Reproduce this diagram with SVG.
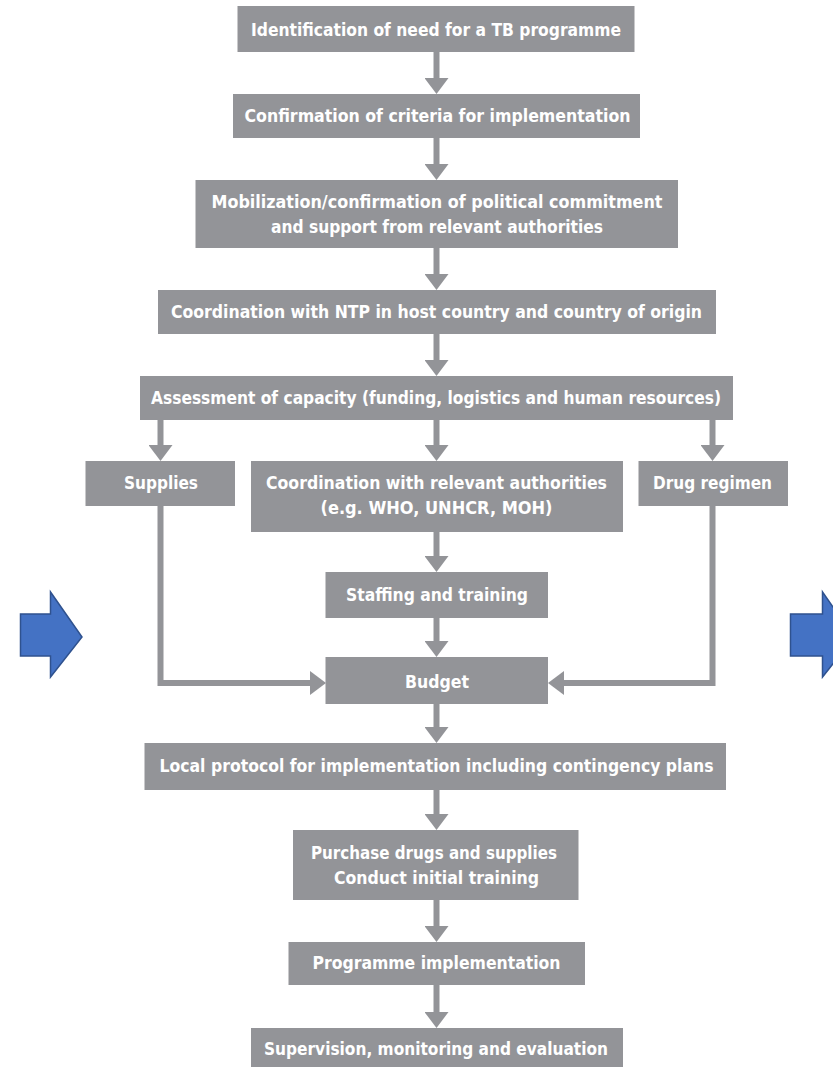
<svg xmlns="http://www.w3.org/2000/svg" width="833" height="1067" viewBox="0 0 833 1067">
<style>
.box{fill:#939498}
.t{fill:#ffffff;font-family:"Liberation Sans Narrow","DejaVu Sans Condensed","Roboto Condensed",sans-serif;font-weight:bold;font-size:17.5px;text-anchor:middle;dominant-baseline:central}
.c{fill:none;stroke:#939498;stroke-width:6;marker-end:url(#ah)}
.blue{fill:#4472C4;stroke:#2F528F;stroke-width:1.5}
</style>
<defs>
<marker id="ah" viewBox="0 0 16 24" refX="4" refY="12" markerWidth="16" markerHeight="24" markerUnits="userSpaceOnUse" orient="auto">
<path d="M0,0 L16,12 L0,24 z" fill="#939498"/>
</marker>
</defs>
<rect width="833" height="1067" fill="#ffffff"/>
<g id="connectors">
<line class="c" x1="436.5" y1="51" x2="436.5" y2="82"/>
<line class="c" x1="436.5" y1="137" x2="436.5" y2="168"/>
<line class="c" x1="436.5" y1="247" x2="436.5" y2="278"/>
<line class="c" x1="436.5" y1="333" x2="436.5" y2="364"/>
<line class="c" x1="160.5" y1="419" x2="160.5" y2="449"/>
<line class="c" x1="436.5" y1="419" x2="436.5" y2="449"/>
<line class="c" x1="712.5" y1="419" x2="712.5" y2="449"/>
<line class="c" x1="436.5" y1="531" x2="436.5" y2="560"/>
<line class="c" x1="436.5" y1="617" x2="436.5" y2="645"/>
<polyline class="c" points="160.5,505 160.5,683 314,683"/>
<polyline class="c" points="712.5,505 712.5,683 560,683"/>
<line class="c" x1="436.5" y1="703" x2="436.5" y2="731"/>
<line class="c" x1="436.5" y1="789" x2="436.5" y2="818"/>
<line class="c" x1="436.5" y1="899" x2="436.5" y2="930"/>
<line class="c" x1="436.5" y1="984" x2="436.5" y2="1016"/>
</g>
<g id="n1"><rect class="box" x="237.5" y="6" width="397" height="46"/><text class="t" x="436" y="30" textLength="370" lengthAdjust="spacingAndGlyphs">Identification of need for a TB programme</text></g>
<g id="n2"><rect class="box" x="233" y="94" width="407" height="44"/><text class="t" x="437.5" y="116" textLength="386" lengthAdjust="spacingAndGlyphs">Confirmation of criteria for implementation</text></g>
<g id="n3"><rect class="box" x="195.5" y="180" width="482.5" height="68"/><text class="t" x="437" y="202" textLength="451" lengthAdjust="spacingAndGlyphs">Mobilization/confirmation of political commitment</text><text class="t" x="437" y="227" textLength="332" lengthAdjust="spacingAndGlyphs">and support from relevant authorities</text></g>
<g id="n4"><rect class="box" x="158" y="290" width="558" height="44"/><text class="t" x="436.5" y="312" textLength="531" lengthAdjust="spacingAndGlyphs">Coordination with NTP in host country and country of origin</text></g>
<g id="n5"><rect class="box" x="140" y="376" width="593" height="44"/><text class="t" x="436" y="398" textLength="570" lengthAdjust="spacingAndGlyphs">Assessment of capacity (funding, logistics and human resources)</text></g>
<g id="n6"><rect class="box" x="85.5" y="461" width="149.5" height="45"/><text class="t" x="161" y="483" textLength="74" lengthAdjust="spacingAndGlyphs">Supplies</text></g>
<g id="n7"><rect class="box" x="251" y="461" width="372" height="71"/><text class="t" x="436.5" y="483" textLength="341" lengthAdjust="spacingAndGlyphs">Coordination with relevant authorities</text><text class="t" x="436.5" y="508" textLength="232" lengthAdjust="spacingAndGlyphs">(e.g. WHO, UNHCR, MOH)</text></g>
<g id="n8"><rect class="box" x="638.5" y="461" width="149.5" height="45"/><text class="t" x="712.5" y="483" textLength="119" lengthAdjust="spacingAndGlyphs">Drug regimen</text></g>
<g id="n9"><rect class="box" x="325.5" y="572" width="222.5" height="46"/><text class="t" x="437" y="595" textLength="182" lengthAdjust="spacingAndGlyphs">Staffing and training</text></g>
<g id="n10"><rect class="box" x="325.5" y="657" width="222.5" height="47"/><text class="t" x="437" y="682" textLength="64" lengthAdjust="spacingAndGlyphs">Budget</text></g>
<g id="n11"><rect class="box" x="144.5" y="743" width="581.5" height="47"/><text class="t" x="436.5" y="766" textLength="554" lengthAdjust="spacingAndGlyphs">Local protocol for implementation including contingency plans</text></g>
<g id="n12"><rect class="box" x="293" y="830" width="285.5" height="70"/><text class="t" x="434" y="853" textLength="246" lengthAdjust="spacingAndGlyphs">Purchase drugs and supplies</text><text class="t" x="436.5" y="878" textLength="205" lengthAdjust="spacingAndGlyphs">Conduct initial training</text></g>
<g id="n13"><rect class="box" x="288.5" y="942" width="296.5" height="43"/><text class="t" x="436.5" y="963" textLength="248" lengthAdjust="spacingAndGlyphs">Programme implementation</text></g>
<g id="n14"><rect class="box" x="251" y="1028" width="372" height="42"/><text class="t" x="436" y="1049" textLength="344" lengthAdjust="spacingAndGlyphs">Supervision, monitoring and evaluation</text></g>
<g id="blue-left"><polygon class="blue" points="20.5,614 50.5,614 50.5,592 82,637 50.5,677 50.5,656 20.5,656"/></g>
<g id="blue-right"><polygon class="blue" points="790.5,614 822.5,614 822.5,592 854,637 822.5,677 822.5,656 790.5,656"/></g>
</svg>
